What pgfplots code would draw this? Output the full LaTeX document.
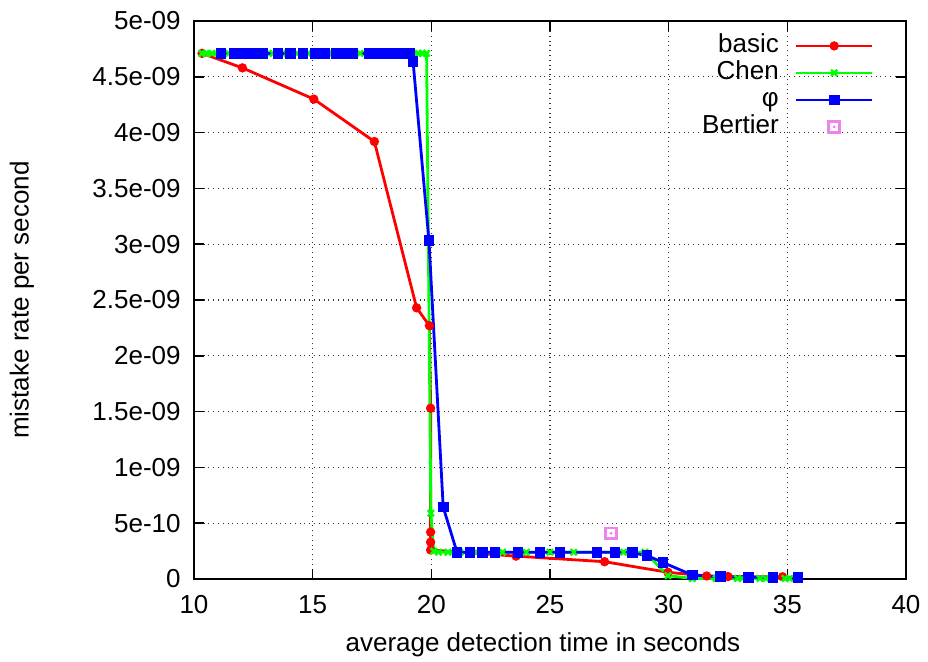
\documentclass[border=0pt]{standalone}
\usepackage{fontspec}
\setmainfont{Liberation Sans}
\usepackage{pgfplots}
\pgfplotsset{compat=1.18}

\definecolor{gred}{RGB}{255,0,0}
\definecolor{ggreen}{RGB}{0,255,0}
\definecolor{gblue}{RGB}{0,0,255}
\definecolor{gviolet}{RGB}{238,130,238}

% square with a dot in the middle (gnuplot style)
\pgfdeclareplotmark{sqdot}{%
  \pgfpathrectangle{\pgfpoint{-\pgfplotmarksize}{-\pgfplotmarksize}}%
    {\pgfpoint{2\pgfplotmarksize}{2\pgfplotmarksize}}%
  \pgfusepathqstroke
  \pgfpathcircle{\pgfpointorigin}{0.3\pgfplotmarksize}%
  \pgfusepathqfill
}
\pgfplotsset{
  longline legend/.style={legend image code/.code={\draw[mark repeat=2,mark phase=2,##1]
    plot coordinates {(0pt,0pt)(19pt,0pt)(38pt,0pt)};}},
  onemark legend/.style={legend image code/.code={\draw[##1]
    plot coordinates {(19pt,0pt)};}},
}

\begin{document}
\begin{tikzpicture}
\begin{axis}[
  scale only axis,
  width=356pt, height=279pt,
  xmin=10, xmax=40, ymin=0, ymax=5e-9,
  xtick={10,15,20,25,30,35,40},
  xticklabels={10,15,20,25,30,35,40},
  ytick={0,0.5e-9,1e-9,1.5e-9,2e-9,2.5e-9,3e-9,3.5e-9,4e-9,4.5e-9,5e-9},
  yticklabels={0,5e-10,1e-09,1.5e-09,2e-09,2.5e-09,3e-09,3.5e-09,4e-09,4.5e-09,5e-09},
  scaled y ticks=false,
  tick align=inside,
  major tick length=5pt,
  tick style={black, line width=0.8pt},
  axis line style={black, line width=1pt},
  grid=major,
  grid style={black!80, dotted, line width=0.6pt},
  tick label style={font=\fontsize{13}{15}\selectfont},
  xticklabel style={inner sep=0pt, anchor=north, yshift=-8pt},
  yticklabel style={inner sep=0pt, anchor=east, xshift=-6.5pt},
  xlabel={average detection time in seconds},
  ylabel={mistake rate per second},
  every axis x label/.style={at={(axis description cs:0.49,-0.118)}, anchor=center,
    font=\fontsize{13}{15}\selectfont},
  every axis y label/.style={at={(axis description cs:-0.2416,0.5)}, rotate=90, anchor=center,
    font=\fontsize{13}{15}\selectfont},
  legend plot pos=right,
  legend cell align=right,
  legend style={at={(axis description cs:1,1)}, anchor=north east,
    xshift=-16pt, yshift=-5.5pt, draw=none, fill=none, inner sep=0pt,
    font=\fontsize{13}{15}\selectfont, column sep=8pt,
    nodes={inner sep=0pt, text height=10pt, text depth=3.5pt}},
  longline legend,
]
% basic
\addplot[gred, line width=1.4pt, mark=*, mark size=1.6pt] coordinates {
(10.34,4.71e-9) (12.04,4.58e-9) (15.05,4.30e-9) (17.6,3.92e-9)
(19.38,2.43e-9) (19.92,2.27e-9) (19.97,1.53e-9) (19.97,0.42e-9)
(19.97,0.33e-9) (19.97,0.26e-9) (23.57,0.205e-9) (27.3,0.155e-9)
(29.97,0.06e-9) (31.6,0.027e-9) (32.5,0.022e-9) (34.8,0.02e-9)
};
\addlegendentry{basic}
% Chen
\addplot[ggreen, line width=1.4pt, mark=x, mark size=2.2pt, mark options={line width=1.2pt}] coordinates {
(10.34,4.71e-9) (10.5,4.71e-9) (10.76,4.71e-9) (11.47,4.71e-9) (11.81,4.71e-9)
(12.36,4.71e-9) (12.99,4.71e-9) (13.33,4.71e-9) (13.92,4.71e-9) (14.34,4.71e-9)
(14.8,4.71e-9) (15.2,4.71e-9) (15.7,4.71e-9) (16.2,4.71e-9) (16.6,4.71e-9)
(17.0,4.71e-9) (17.5,4.71e-9) (18.0,4.71e-9) (18.5,4.71e-9) (19.0,4.71e-9)
(19.45,4.71e-9) (19.62,4.71e-9) (19.8,4.71e-9)
(19.98,0.59e-9) (20.1,0.25e-9) (20.3,0.24e-9) (20.7,0.24e-9) (21.2,0.24e-9)
(21.9,0.24e-9) (23.0,0.24e-9) (24.0,0.24e-9) (25.0,0.24e-9) (26.0,0.24e-9)
(28.1,0.24e-9) (29.0,0.24e-9) (29.97,0.03e-9) (31.0,0.005e-9) (32.0,0.005e-9)
(32.9,0.005e-9) (33.1,0.005e-9) (33.85,0.005e-9) (34.1,0.005e-9) (34.9,0.005e-9)
(35.1,0.005e-9)
};
\addlegendentry{Chen}
% phi
\addplot[gblue, line width=1.4pt, mark=square*, mark size=2pt] coordinates {
(11.14,4.71e-9) (11.69,4.71e-9) (12.06,4.71e-9) (12.44,4.71e-9) (12.87,4.71e-9)
(13.54,4.71e-9) (14.05,4.71e-9) (14.59,4.71e-9) (15.10,4.71e-9) (15.52,4.71e-9)
(15.98,4.71e-9) (16.32,4.71e-9) (16.70,4.71e-9) (17.4,4.71e-9) (17.6,4.71e-9)
(17.8,4.71e-9) (18.0,4.71e-9) (18.2,4.71e-9) (18.4,4.71e-9) (18.6,4.71e-9)
(18.8,4.71e-9) (19.0,4.71e-9) (19.1,4.71e-9)
(19.23,4.64e-9) (19.9,3.03e-9) (20.5,0.645e-9) (21.08,0.24e-9)
(21.63,0.24e-9) (22.14,0.24e-9) (22.68,0.24e-9) (23.65,0.24e-9) (24.58,0.24e-9)
(25.42,0.24e-9) (26.98,0.24e-9) (27.74,0.24e-9) (28.46,0.235e-9) (29.09,0.21e-9)
(29.76,0.148e-9) (30.99,0.036e-9) (32.2,0.02e-9) (33.35,0.016e-9) (34.4,0.015e-9)
(35.45,0.015e-9)
};
\addlegendentry{φ}
% Bertier
\addplot[only marks, gviolet, fill=gviolet, mark=sqdot, mark size=2.7pt,
  mark options={line width=1.3pt}, onemark legend]
  coordinates {(27.57,0.41e-9)};
\addlegendentry{Bertier}
\end{axis}
\pgfresetboundingbox
\useasboundingbox (-97pt,-41pt) rectangle (367pt,289.5pt);
\end{tikzpicture}
\end{document}
